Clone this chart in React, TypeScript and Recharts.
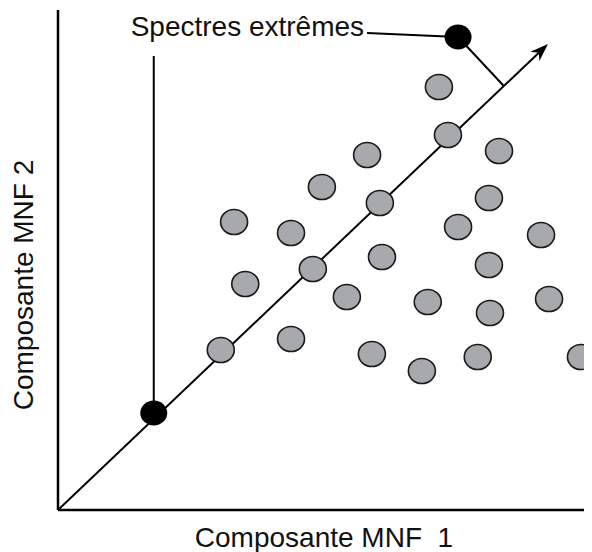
import React from 'react';
import { ScatterChart, Scatter, XAxis, YAxis, ReferenceLine } from 'recharts';

// grey pixels cloud (MNF space, arbitrary 0-100 units)
const cloudX = [71.6, 73.3, 82.9, 58.1, 49.6, 81.0, 60.5, 33.1, 43.8, 75.2, 90.8, 60.9, 47.9, 81.0, 35.2, 54.3, 69.5, 92.3, 81.2, 30.6, 43.8, 59.0, 78.9, 68.4, 98.3];
const cloudY = [84.6, 75.0, 71.8, 71.0, 64.6, 62.4, 61.4, 57.6, 55.4, 56.6, 55.0, 50.6, 48.2, 49.0, 45.2, 42.6, 41.6, 42.2, 39.4, 32.0, 34.2, 31.2, 30.6, 27.8, 30.6];

// the two extreme spectra (black)
const extremeX = [75.2, 18.0];
const extremeY = [94.6, 19.4];

// projection axis, origin -> arrow tip
const axisX = [0, 92.1];
const axisY = [0, 93.2];

// foot of the perpendicular from the top extreme onto the axis
const footX = 83.8;
const footY = 84.8;

// where the label leaders start
const labelLeaderX = [58.1, 18.0];
const labelLeaderY = [95.4, 90.8];

const cloud = cloudX.map((x, i) => ({ x, y: cloudY[i] }));
const extremes = extremeX.map((x, i) => ({ x, y: extremeY[i] }));

const FONT = '"Liberation Sans", Arial, sans-serif';
const FONT_SIZE = 28;

const GreyDot = (p: any) => (
  <ellipse cx={p.cx} cy={p.cy} rx={13.5} ry={12.5} fill="#a7a9ac" stroke="#1a1a1a" strokeWidth={1.6} />
);

const BlackDot = (p: any) => <ellipse cx={p.cx} cy={p.cy} rx={13.5} ry={12.5} fill="#000" />;

function ArrowShape(p: any) {
  const { x1, y1, x2, y2 } = p;
  const a = Math.atan2(y2 - y1, x2 - x1);
  const len = 18;
  const half = 6.5;
  const bx = x2 - len * Math.cos(a);
  const by = y2 - len * Math.sin(a);
  const nx = -Math.sin(a);
  const ny = Math.cos(a);
  const notchX = x2 - len * 0.7 * Math.cos(a);
  const notchY = y2 - len * 0.7 * Math.sin(a);
  return (
    <g>
      <line x1={x1} y1={y1} x2={notchX} y2={notchY} stroke="#000" strokeWidth={2} />
      <polygon
        points={`${x2},${y2} ${bx + nx * half},${by + ny * half} ${notchX},${notchY} ${bx - nx * half},${by - ny * half}`}
        fill="#000"
      />
    </g>
  );
}

const plainLine = (p: any) => <line x1={p.x1} y1={p.y1} x2={p.x2} y2={p.y2} stroke="#000" strokeWidth={2} />;

function LabelLeader(p: any) {
  return (
    <g>
      <line x1={p.x1} y1={p.y1} x2={p.x2} y2={p.y2} stroke="#000" strokeWidth={2} />
      <text x={p.x1 - 3} y={p.y1 + 3} textAnchor="end" fontFamily={FONT} fontSize={FONT_SIZE} fill="#111">
        Spectres extrêmes
      </text>
    </g>
  );
}

export default function App() {
  return (
    <ScatterChart width={584} height={544} margin={{ top: 2, right: 2, left: 0, bottom: 0 }}>
      <XAxis
        dataKey="x"
        type="number"
        domain={[0, 100]}
        height={42}
        tick={false}
        tickLine={false}
        axisLine={{ stroke: '#000', strokeWidth: 2.5 }}
        label={{
          content: (props: any) => {
            const vb = props.viewBox;
            return (
              <text x={vb.x + vb.width / 2} y={vb.y + 37} textAnchor="middle" fontFamily={FONT} fontSize={FONT_SIZE} fill="#111">
                Composante MNF{'\u00a0'} 1
              </text>
            );
          },
        }}
      />
      <YAxis
        dataKey="y"
        type="number"
        domain={[0, 100]}
        width={50}
        tick={false}
        tickLine={false}
        axisLine={{ stroke: '#000', strokeWidth: 2.5 }}
        label={{
          content: (props: any) => {
            const vb = props.viewBox;
            const cx = vb.x + 25;
            const cy = vb.y + vb.height / 2 + 25;
            return (
              <text x={cx} y={cy} transform={`rotate(-90, ${cx}, ${cy})`} textAnchor="middle" fontFamily={FONT} fontSize={FONT_SIZE} fill="#111">
                Composante MNF 2
              </text>
            );
          },
        }}
      />
      <ReferenceLine
        segment={[{ x: axisX[0], y: axisY[0] }, { x: axisX[1], y: axisY[1] }]}
        shape={ArrowShape}
      />
      <ReferenceLine
        segment={[{ x: extremeX[0], y: extremeY[0] }, { x: footX, y: footY }]}
        shape={plainLine}
      />
      <ReferenceLine
        segment={[{ x: labelLeaderX[0], y: labelLeaderY[0] }, { x: extremeX[0], y: extremeY[0] }]}
        shape={LabelLeader}
      />
      <ReferenceLine
        segment={[{ x: labelLeaderX[1], y: labelLeaderY[1] }, { x: extremeX[1], y: extremeY[1] }]}
        shape={plainLine}
      />
      <Scatter data={cloud} shape={GreyDot} isAnimationActive={false} />
      <Scatter data={extremes} shape={BlackDot} isAnimationActive={false} />
    </ScatterChart>
  );
}
